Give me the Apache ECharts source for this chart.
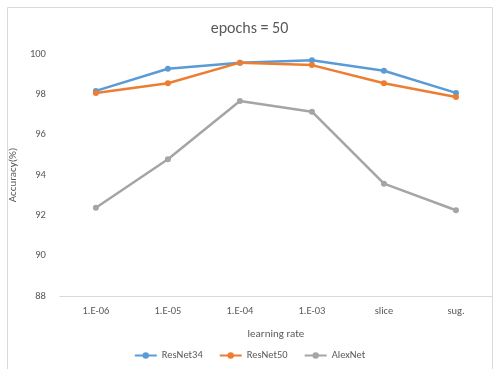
<!DOCTYPE html>
<html>
<head>
<meta charset="utf-8">
<script src="https://cdn.jsdelivr.net/npm/echarts@6/dist/echarts.min.js"></script>
<style>
html,body{margin:0;padding:0;background:#fff;}
#chart{width:499px;height:369px;}
</style>
</head>
<body>
<div id="chart"></div>
<script>
const categories = ['1.E-06', '1.E-05', '1.E-04', '1.E-03', 'slice', 'sug.'];
const resnet34 = [98.17, 99.27, 99.57, 99.69, 99.17, 98.07];
const resnet50 = [98.07, 98.55, 99.57, 99.45, 98.55, 97.87];
const alexnet = [92.38, 94.78, 97.67, 97.14, 93.57, 92.25];

const textColor = '#595959';
const font = 'Calibri, Carlito, "Open Sans", sans-serif';

function lineSeries(name, data, color) {
  return {
    name: name,
    type: 'line',
    data: data,
    symbol: 'circle',
    symbolSize: 6,
    lineStyle: { color: color, width: 2.5 },
    itemStyle: { color: color },
    animation: false
  };
}

const chart = echarts.init(document.getElementById('chart'), null, { renderer: 'canvas' });
chart.setOption({
  backgroundColor: '#fff',
  animation: false,
  graphic: [{
    type: 'rect',
    shape: { x: 7.5, y: 7.5, width: 485, height: 372 },
    style: { fill: 'none', stroke: '#d9d9d9', lineWidth: 1 },
    silent: true
  }],
  title: {
    text: 'epochs = 50',
    left: 'center',
    top: 16,
    textStyle: { color: textColor, fontSize: 16, fontWeight: 'normal', fontFamily: font }
  },
  grid: { left: 58, right: 7, top: 54, bottom: 73 },
  legend: {
    bottom: 3,
    left: 'center',
    itemWidth: 22,
    itemHeight: 8,
    itemGap: 16,
    textStyle: { color: textColor, fontSize: 10.5, fontFamily: font },
    data: ['ResNet34', 'ResNet50', 'AlexNet']
  },
  xAxis: {
    type: 'category',
    data: categories,
    name: 'learning rate',
    nameLocation: 'middle',
    nameGap: 33,
    nameTextStyle: { color: textColor, fontSize: 11, fontFamily: font },
    axisLine: { lineStyle: { color: '#d9d9d9' } },
    axisTick: { show: false },
    axisLabel: { color: textColor, fontSize: 10.5, margin: 10, fontFamily: font }
  },
  yAxis: {
    type: 'value',
    min: 88,
    max: 100,
    interval: 2,
    name: 'Accuracy(%)',
    nameLocation: 'middle',
    nameGap: 30,
    nameTextStyle: { color: textColor, fontSize: 11, fontFamily: font },
    axisLine: { show: false },
    axisTick: { show: false },
    splitLine: { show: false },
    axisLabel: { color: textColor, fontSize: 10.5, margin: 14, fontFamily: font }
  },
  series: [
    lineSeries('ResNet34', resnet34, '#5B9BD5'),
    lineSeries('ResNet50', resnet50, '#ED7D31'),
    lineSeries('AlexNet', alexnet, '#A5A5A5')
  ]
});
</script>
</body>
</html>
